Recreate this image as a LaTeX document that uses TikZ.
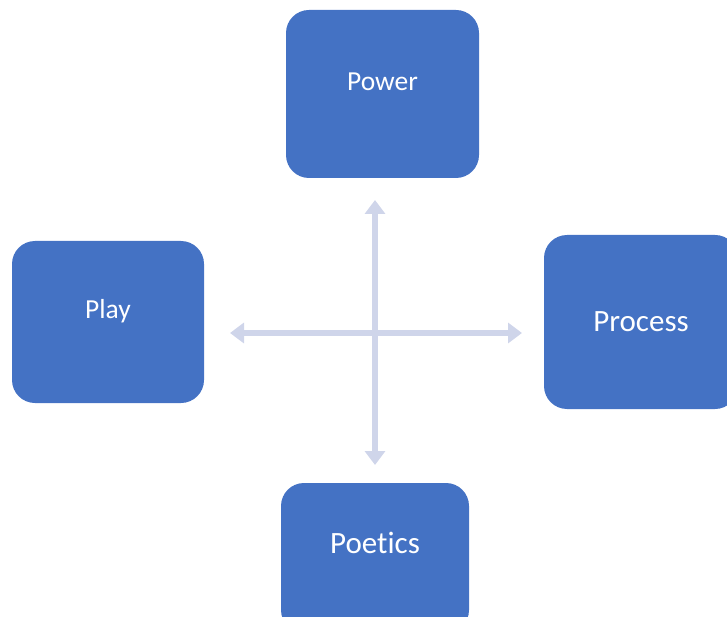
\documentclass[tikz,border=0pt]{standalone}
\usepackage{fontspec}
\setmainfont{Carlito}[Ligatures=NoCommon]
\usetikzlibrary{arrows.meta}
\definecolor{boxblue}{HTML}{4472C4}
\definecolor{axisgrey}{HTML}{CFD5EA}
\begin{document}
\begin{tikzpicture}[x=1pt,y=-1pt,
    pbox/.style={fill=boxblue,rounded corners=23pt,inner sep=0pt},
    lbl/.style={text=white,inner sep=0pt},
    axis/.style={axisgrey,line width=5.5pt,
      {Triangle[width=20pt,length=14pt]}-{Triangle[width=20pt,length=14pt]}}]
  \useasboundingbox (0,0) rectangle (727,617);

  % The four boxes round the cross.
  \node[pbox,minimum width=193pt,minimum height=168pt] (power) at (382.5,94) {};
  \node[pbox,minimum width=192pt,minimum height=162pt] (play) at (108,322) {};
  \node[pbox,minimum width=194pt,minimum height=174pt] (process) at (641,322) {};
  \node[pbox,minimum width=188pt,minimum height=150pt] (poetics) at (375,558) {};

  \node[lbl,font=\fontsize{27.5}{33}\selectfont] (powerlbl) at (382.5,82) {Power};
  \node[lbl,font=\fontsize{27.5}{33}\selectfont] (playlbl) at (108,311) {Play};
  \node[lbl,font=\fontsize{31}{37}\selectfont] (processlbl) at (641,322) {Process};
  \node[lbl,font=\fontsize{31}{37}\selectfont] (poeticslbl) at (375,543) {Poetics};

  % Double-headed axes.
  \coordinate (north) at (375,200);
  \coordinate (south) at (375,465);
  \coordinate (west) at (230,333);
  \coordinate (east) at (522,333);
  \draw[axis] (south) -- (north);
  \draw[axis] (west) -- (east);
\end{tikzpicture}
\end{document}
